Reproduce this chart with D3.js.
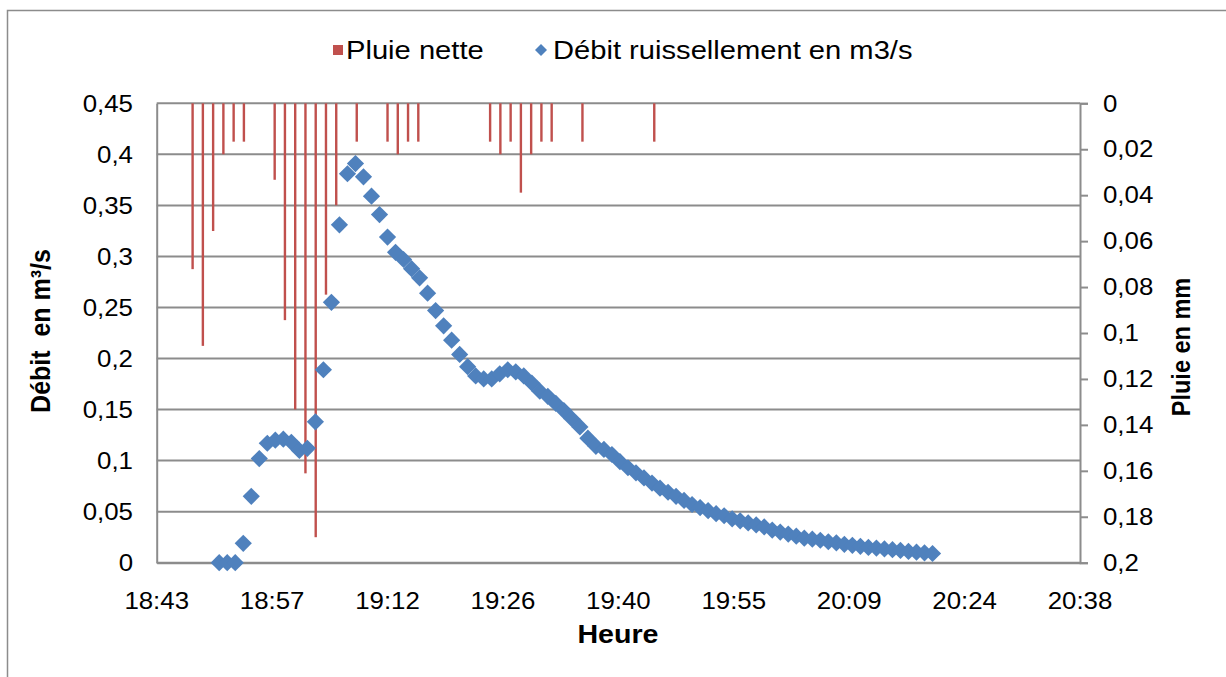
<!DOCTYPE html>
<html><head><meta charset="utf-8">
<script src="https://cdn.jsdelivr.net/npm/d3@7"></script>
<style>
html,body{margin:0;padding:0;background:#fff;}
svg text{font-family:"Liberation Sans",Arial,sans-serif;fill:#000;white-space:pre;}
</style></head>
<body><svg id="c" width="1226" height="677"></svg>
<script>
// ---------- DATA ----------
const debitTimes = ["18:51","18:52","18:53","18:54","18:55","18:56","18:57","18:58","18:59","19:00",
"19:01","19:02","19:03","19:04","19:05","19:06","19:07","19:08","19:09","19:10",
"19:11","19:12","19:13","19:14","19:15","19:16","19:17","19:18","19:19","19:20",
"19:21","19:22","19:23","19:24","19:25","19:26","19:27","19:28","19:29","19:30",
"19:31","19:32","19:33","19:34","19:35","19:36","19:37","19:38","19:39","19:40",
"19:41","19:42","19:43","19:44","19:45","19:46","19:47","19:48","19:49","19:50",
"19:51","19:52","19:53","19:54","19:55","19:56","19:57","19:58","19:59","20:00",
"20:01","20:02","20:03","20:04","20:05","20:06","20:07","20:08","20:09","20:10",
"20:11","20:12","20:13","20:14","20:15","20:16","20:17","20:18","20:19","20:20"];
const debitValues = [0,0,0,0.019,0.065,0.102,0.117,0.120,0.121,0.118,
0.110,0.112,0.138,0.189,0.255,0.331,0.381,0.391,0.378,0.359,
0.341,0.319,0.304,0.297,0.288,0.279,0.264,0.247,0.232,0.218,
0.204,0.192,0.183,0.180,0.180,0.185,0.189,0.187,0.183,0.176,
0.168,0.163,0.156,0.149,0.141,0.133,0.122,0.114,0.111,0.106,
0.099,0.093,0.088,0.083,0.078,0.073,0.069,0.065,0.061,0.057,
0.054,0.051,0.048,0.046,0.043,0.041,0.039,0.037,0.035,0.032,
0.030,0.028,0.026,0.024,0.023,0.022,0.0205,0.0195,0.018,0.017,
0.016,0.015,0.0143,0.0135,0.0128,0.012,0.011,0.0103,0.0097,0.009];
// net rain (mm) per category slot (same 90 slots as the discharge series)
const pluieValues = [0,0,0,0.0722,0.1056,0.0556,0.0222,0.0167,0.0167,0,
0,0.0333,0.0944,0.1333,0.1611,0.1889,0.0833,0.0444,0,0.0167,
0,0,0.0167,0.0222,0.0167,0.0167,0,0,0,0,
0,0,0.0167,0.0222,0.0167,0.0389,0.0222,0.0167,0.0167,0,
0,0.0167,0,0,0,0,0,0,0.0167,0,
0,0,0,0,0,0,0,0,0,0,
0,0,0,0,0,0,0,0,0,0,
0,0,0,0,0,0,0,0,0,0,
0,0,0,0,0,0,0,0,0,0];
const xTickDays = [0.78,0.79,0.80,0.81,0.82,0.83,0.84,0.85,0.86];
const xTickLabels = ["18:43","18:57","19:12","19:26","19:40","19:55","20:09","20:24","20:38"];
const yLeftTicks = [0,0.05,0.1,0.15,0.2,0.25,0.3,0.35,0.4,0.45];
const yRightTicks = [0,0.02,0.04,0.06,0.08,0.1,0.12,0.14,0.16,0.18,0.2];
const legendLabels = ["Pluie nette","Débit ruissellement en m3/s"];

// ---------- LAYOUT ----------
const L=156.7, R=1080, T=103.3, B=562.7;
const SX=1.1, FS=23.5;
const blue="#4F81BD", red="#C0504D", grid="#8C8C8C";
const svg=d3.select("#c");
const toMin = s => { const [h,m]=s.split(":").map(Number); return h*60+m; };

const x = d3.scaleLinear().domain([xTickDays[0]*1440, xTickDays[xTickDays.length-1]*1440]).range([L,R]);
const yL = d3.scaleLinear().domain([0,0.45]).range([B,T]);
const yR = d3.scaleLinear().domain([0,0.2]).range([T,B]);
const xb = d3.scaleBand().domain(d3.range(pluieValues.length)).range([L,R]).paddingInner(0).paddingOuter(0);

function txt(g,px,py,s,anchor,opts={}){
  const t=g.append("text").attr("text-anchor",anchor)
    .attr("dy","0.35em").style("font-size",(opts.fs||FS)+"px");
  if(opts.bold) t.style("font-weight","bold");
  if(opts.rot) t.attr("transform",`translate(${px},${py}) rotate(-90) scale(1,${SX})`);
  else t.attr("transform",`translate(${px},${py}) scale(${SX},1)`);
  t.text(s);
  return t;
}

// outer border
svg.append("rect").attr("x",7.5).attr("y",10.5).attr("width",1300).attr("height",800)
  .attr("fill","none").attr("stroke","#8C8C8C").attr("stroke-width",1.5);

// gridlines (left axis)
svg.append("g").selectAll("line").data(yLeftTicks).join("line")
  .attr("x1",L).attr("x2",R).attr("y1",d=>yL(d)).attr("y2",d=>yL(d))
  .attr("stroke",grid).attr("stroke-width",2);

// axes via d3 (styled)
const fmtComma = d => String(+d.toFixed(3)).replace(".",",");
const gl = svg.append("g").attr("transform",`translate(${L},0)`).call(d3.axisLeft(yL).tickValues(yLeftTicks).tickSize(0).tickFormat(""));
const gr = svg.append("g").attr("transform",`translate(${R},0)`).call(d3.axisRight(yR).tickValues(yRightTicks).tickSize(8).tickFormat(""));
const gb = svg.append("g").attr("transform",`translate(0,${B})`).call(d3.axisBottom(x).tickValues(xTickDays.map(d=>d*1440)).tickSize(0).tickFormat(""));
[gl,gr,gb].forEach(g=>{g.select(".domain").attr("stroke",grid).attr("stroke-width",2);
  g.selectAll(".tick line").attr("stroke",grid).attr("stroke-width",2);});

// tick labels
const lab = svg.append("g");
yLeftTicks.forEach(v=>txt(lab,133,yL(v),fmtComma(v),"end"));
yRightTicks.forEach(v=>txt(lab,1103,yR(v),fmtComma(v),"start"));
xTickDays.forEach((v,i)=>txt(lab,x(v*1440),601,xTickLabels[i],"middle"));

// axis titles
txt(lab,40,331,"Débit  en m³/s","middle",{bold:true,rot:true,fs:25});
txt(lab,1181,347,"Pluie en mm","middle",{bold:true,rot:true});
txt(lab,618,634,"Heure","middle",{bold:true,fs:26});

// rain bars (hanging from top, secondary axis)
svg.append("g").selectAll("rect").data(pluieValues.map((v,i)=>({v,i}))).join("rect")
  .attr("x",d=>xb(d.i)+xb.bandwidth()/2-1.2).attr("width",2.4)
  .attr("y",yR(0)).attr("height",d=>yR(d.v)-yR(0)).attr("fill",red);

// discharge diamonds
const r=8.6;
const diamond=`M0,${-r}L${r},0L0,${r}L${-r},0Z`;
svg.append("g").selectAll("path").data(debitValues.map((v,i)=>({t:toMin(debitTimes[i]),v}))).join("path")
  .attr("d",diamond).attr("transform",d=>`translate(${x(d.t)},${yL(d.v)})`).attr("fill",blue);

// legend
const lg = svg.append("g");
lg.append("rect").attr("x",333).attr("y",45).attr("width",10).attr("height",10).attr("fill",red);
txt(lg,346,50,legendLabels[0],"start",{fs:26.5});
const lr=6;
lg.append("path").attr("d",`M0,${-lr}L${lr},0L0,${lr}L${-lr},0Z`).attr("transform","translate(541,50)").attr("fill",blue);
txt(lg,553,50,legendLabels[1],"start",{fs:26.5});
</script></body></html>
